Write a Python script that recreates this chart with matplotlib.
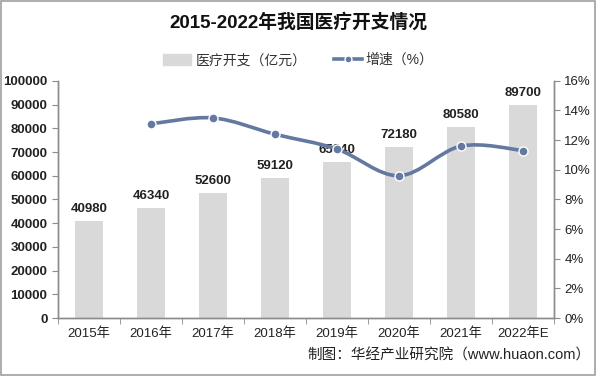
import numpy as np
import matplotlib
matplotlib.use("Agg")
import matplotlib.pyplot as plt
from matplotlib.path import Path
from matplotlib.patches import PathPatch, Rectangle
from matplotlib.lines import Line2D

plt.rcParams['font.family'] = ['Liberation Sans', 'Noto Sans CJK SC']

years = ['2015年', '2016年', '2017年', '2018年', '2019年', '2020年', '2021年', '2022年E']
spend = [40980, 46340, 52600, 59120, 65840, 72180, 80580, 89700]   # 亿元
growth = [None, 13.1, 13.5, 12.4, 11.4, 9.6, 11.6, 11.3]           # %

bar_color = '#d9d9d9'
line_color = '#6478a0'
axis_color = '#8c8c8c'

fig = plt.figure(figsize=(5.97, 3.76), dpi=100)
fig.patches.append(Rectangle((0.002, 0.003), 0.995, 0.994, transform=fig.transFigure,
                             fill=False, edgecolor='#a0a0a0', lw=1.2))
ax = fig.add_axes([0.097, 0.154, 0.831, 0.631])
ax2 = ax.twinx()

x = np.arange(len(years))
ax.bar(x, spend, width=0.45, color=bar_color, zorder=2)
for xi, v in zip(x, spend):
    ax.text(xi, v + 2500, str(v), ha='center', va='bottom', fontsize=9.5,
            color='#222222', fontweight='semibold')

ax.set_xlim(-0.5, len(years) - 0.5)
ax.set_ylim(0, 100000)
ax.set_yticks(np.arange(0, 100001, 10000))
ax.set_xticks(x)
ax.set_xticklabels(years, fontsize=9.5, color='#222222')
ax.set_xticks(np.arange(-0.5, len(years), 1), minor=True)
ax.tick_params(axis='x', which='major', length=0, pad=7)
ax.tick_params(axis='x', which='minor', length=4, color=axis_color)
ax.tick_params(axis='y', length=4, color=axis_color, labelsize=9.5, labelcolor='#222222')
for lab in ax.get_yticklabels():
    lab.set_fontweight('bold')

# smoothed growth line (cubic bezier through the points)
gx = [xi for xi, g in zip(x, growth) if g is not None]
gy = [g for g in growth if g is not None]
pts = np.column_stack([gx, gy]).astype(float)
verts = [tuple(pts[0])]
codes = [Path.MOVETO]
for i in range(len(pts) - 1):
    p0 = pts[i - 1] if i > 0 else pts[i]
    p1, p2 = pts[i], pts[i + 1]
    p3 = pts[i + 2] if i + 2 < len(pts) else pts[i + 1]
    c1 = p1 + (p2 - p0) / 6
    c2 = p2 - (p3 - p1) / 6
    verts += [tuple(c1), tuple(c2), tuple(p2)]
    codes += [Path.CURVE4] * 3
ax2.add_patch(PathPatch(Path(verts, codes), fill=False, edgecolor=line_color, lw=2.6, zorder=3))
ax2.plot(gx, gy, 'o', color=line_color, ms=6.5, mec='white', mew=1, zorder=4)
ax2.set_ylim(0, 16)
ax2.set_yticks(np.arange(0, 17, 2))
ax2.set_yticklabels([f'{t}%' for t in range(0, 17, 2)])
ax2.tick_params(axis='y', length=4, color=axis_color, labelsize=9.5, labelcolor='#222222')

for a in (ax, ax2):
    a.spines['top'].set_visible(False)
    for s in ('left', 'right', 'bottom'):
        a.spines[s].set_color(axis_color)
        a.spines[s].set_linewidth(1)

fig.text(0.5, 0.94, '2015-2022年我国医疗开支情况', ha='center', va='center',
         fontsize=13.5, fontweight='bold', color='#111111')

handles = [Rectangle((0, 0), 1, 1, color=bar_color),
           Line2D([0], [0], color=line_color, lw=2.6, marker='o', ms=5, mec='white')]
fig.legend(handles, ['医疗开支（亿元）', '增速（%）'], loc='center', bbox_to_anchor=(0.5, 0.84),
           ncol=2, frameon=False, fontsize=10, handlelength=2.0, columnspacing=2.0,
           handletextpad=0.3, handleheight=0.8, labelcolor='#333333')

fig.text(0.99, 0.055, '制图：华经产业研究院（www.huaon.com）', ha='right', va='center',
         fontsize=10.5, color='#222222')

fig.savefig('out.png', dpi=100)
